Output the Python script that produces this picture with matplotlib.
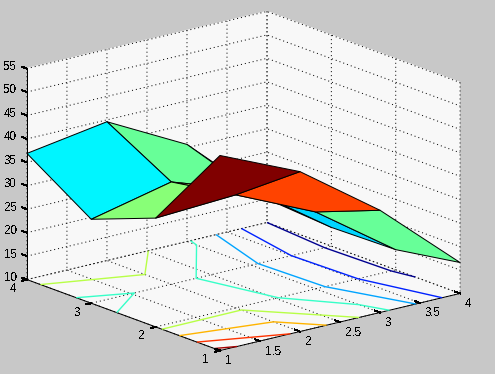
import numpy as np
import matplotlib
matplotlib.use('Agg')
import matplotlib.pyplot as plt
from matplotlib.colors import LinearSegmentedColormap, Normalize
from mpl_toolkits.mplot3d import proj3d

# surface values, rows are y = 1..4, columns x = 1..4
x_vals = [1, 2, 3, 4]
y_vals = [1, 2, 3, 4]
z_y1 = [51.6, 44.1, 31.8, 16.6]
z_y2 = [33.2, 34.1, 26.4, 14.3]
z_y3 = [27.9, 31.8, 26.0, 14.0]
z_y4 = [36.9, 39.6, 30.7, 15.0]
contour_levels = [15, 20, 25, 30, 35, 40, 45, 50]
x_ticks = [1, 1.5, 2, 2.5, 3, 3.5, 4]
x_labels = ['1', '1.5', '2', '2.5', '3', '3.5', '4']
y_ticks = [1, 2, 3, 4]
y_labels = ['1', '2', '3', '4']
z_ticks = [10, 15, 20, 25, 30, 35, 40, 45, 50, 55]
z_labels = ['10', '15', '20', '25', '30', '35', '40', '45', '50', '55']

BG = '#c8c8c8'
PANE = '#f8f8f8'

plt.rcParams['font.family'] = ['Liberation Sans', 'DejaVu Sans']
plt.rcParams['font.size'] = 8.4
plt.rcParams['text.antialiased'] = False
plt.rcParams['lines.antialiased'] = False

# matlab's jet, matplotlib's own has its knots in slightly different places
jet = LinearSegmentedColormap.from_list('matlab_jet', [
    (0.0, (0, 0, 0.5)), (0.125, (0, 0, 1)), (0.375, (0, 1, 1)),
    (0.625, (1, 1, 0)), (0.875, (1, 0, 0)), (1.0, (0.5, 0, 0))], N=64)

X, Y = np.meshgrid(x_vals, y_vals)
Z = np.array([z_y1, z_y2, z_y3, z_y4])
norm = Normalize(Z.min(), Z.max())

fig = plt.figure(figsize=(4.95, 3.74), dpi=100, facecolor=BG)
ax = fig.add_subplot(projection='3d', proj_type='ortho', computed_zorder=False)
ax.set_position([-10.7 / 495, -61.2 / 374, 1, 495 / 374])
ax.set_facecolor(BG)
ax.view_init(elev=17.2, azim=-128.8)
ax.set_box_aspect((1, 1, 0.717), zoom=0.958)

cont = ax.contour(X, Y, Z, levels=contour_levels, zdir='z', offset=10, cmap=jet,
                  norm=norm, linewidths=1.0, zorder=1)
cont.set_antialiased(True)
ax.plot_surface(X, Y, Z, rstride=1, cstride=1, facecolors=jet(norm(Z)),
                edgecolor='black', linewidth=0.72, shade=False,
                antialiased=True, zorder=2)

ax.set_xlim(1, 4, view_margin=0)
ax.set_ylim(1, 4, view_margin=0)
ax.set_zlim(10, 55, view_margin=0)
ax.set_xticks(x_ticks)
ax.set_xticklabels([''] * len(x_ticks))
ax.set_yticks(y_ticks)
ax.set_yticklabels([''] * len(y_ticks))
ax.set_zticks(z_ticks)
ax.set_zticklabels([''] * len(z_ticks))

for axis in (ax.xaxis, ax.yaxis, ax.zaxis):
    axis.set_pane_color(PANE)
    axis.pane.set_edgecolor(PANE)
    axis.line.set_color('black')
    axis.line.set_linewidth(0.72)
    axis.gridlines.set_capstyle('butt')
    axis.gridlines.set_antialiased(True)
    axis._axinfo['grid'].update(color='black', linewidth=0.72,
                                linestyle=(0, (1, 3)))
    # the builtin tick marks point the wrong way here, drawn by hand below
    axis._axinfo['tick'].update(inward_factor=0.0, outward_factor=0.0,
                                linewidth={True: 0.0, False: 0.0})
ax.zaxis.line.set_visible(False)

# z axis line sits on the left corner, mplot3d puts it elsewhere for this view
ax.plot([1, 1], [4, 4], [z_ticks[0], z_ticks[-1]], color='black', lw=0.72, zorder=3)
for t in x_ticks:
    ax.plot([t, t], [1, 1.08], [10, 10], color='black', lw=0.72, zorder=3)
for t in y_ticks:
    ax.plot([1, 0.94], [t, t], [10, 10], color='black', lw=0.72, zorder=3)
for t in z_ticks:
    ax.plot([1, 1], [4, 4.08], [t, t], color='black', lw=0.72, zorder=3)

# tick labels sit at a fixed pixel offset from their tick, as in the original
M = ax.get_proj()


def put_label(text, x, y, z, dx, dy, ha):
    px, py, _ = proj3d.proj_transform(x, y, z, M)
    ax.annotate(text, (px, py), xytext=(dx, dy), textcoords='offset pixels',
                ha=ha, va='center', annotation_clip=False)


for t, s in zip(x_ticks, x_labels):
    put_label(s, t, 1, 10, 5, -10.5, 'left')
for t, s in zip(y_ticks, y_labels):
    put_label(s, 1, t, 10, -11, -9.5, 'right')
for t, s in zip(z_ticks, z_labels):
    put_label(s, 1, 4, t, -10, 1.5, 'right')

fig.savefig('out.png', dpi=100, facecolor=BG)
